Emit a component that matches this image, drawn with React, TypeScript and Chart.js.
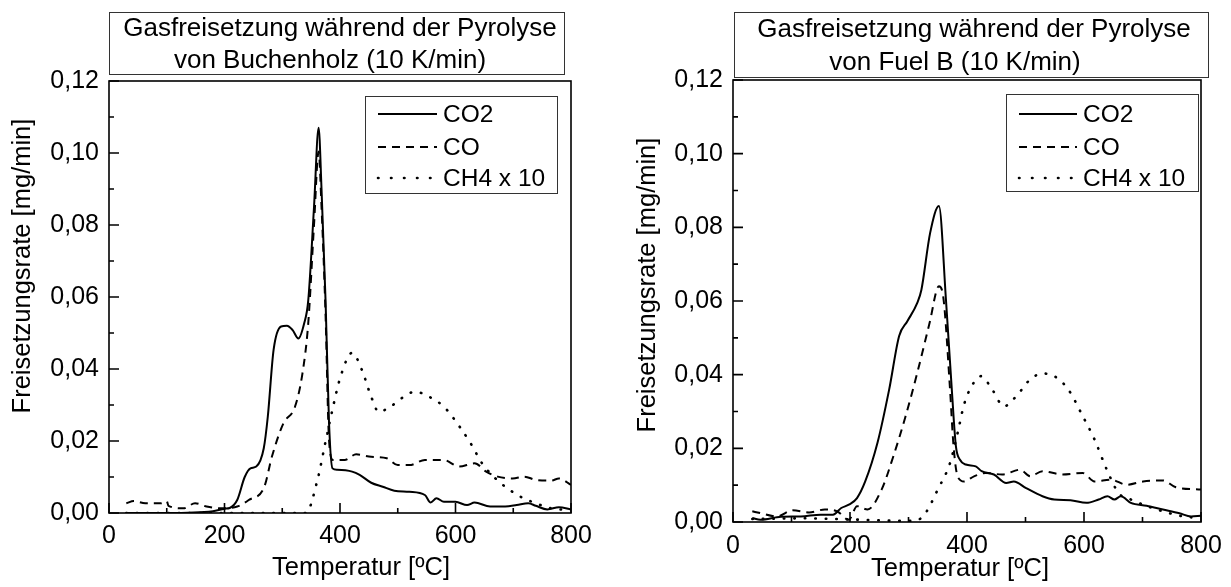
import React, { useEffect, useRef } from "react";
import { Chart, registerables } from "chart.js";

Chart.register(...registerables);

const FONT = "'Liberation Sans', Arial, Helvetica, sans-serif";

// ---------- Data: Buchenholz (left) ----------
const beechCO2T = [30, 100, 180, 200, 209, 222, 235, 245, 255, 268, 275, 285, 298, 308, 318, 328, 338, 345, 355, 363, 368, 375, 381, 387, 395, 421, 434, 454, 474, 494, 520, 547, 557, 567, 580, 600, 620, 633, 660, 686, 706, 726, 739, 759, 779, 800];
const beechCO2 = [0, 0, 0.0005, 0.0012, 0.0014, 0.0036, 0.010, 0.0124, 0.0129, 0.018, 0.0268, 0.0453, 0.0518, 0.052, 0.0508, 0.0485, 0.0527, 0.059, 0.085, 0.107, 0.09, 0.059, 0.025, 0.0124, 0.012, 0.0115, 0.0106, 0.0084, 0.0073, 0.0062, 0.0059, 0.005, 0.0029, 0.0041, 0.0031, 0.0031, 0.0022, 0.0029, 0.0018, 0.0018, 0.0022, 0.0027, 0.002, 0.001, 0.0016, 0.001];

const beechCOT = [30, 43, 63, 90, 100, 103, 129, 149, 169, 196, 222, 242, 269, 282, 302, 322, 335, 345, 355, 363, 368, 375, 381, 388, 408, 428, 454, 481, 500, 520, 547, 580, 606, 633, 653, 673, 699, 719, 739, 766, 779, 800];
const beechCO = [0.0027, 0.0033, 0.0027, 0.0027, 0.0033, 0.002, 0.0013, 0.0027, 0.0018, 0.0013, 0.0018, 0.0036, 0.0073, 0.0156, 0.0249, 0.0295, 0.0388, 0.0527, 0.08, 0.1004, 0.085, 0.055, 0.0203, 0.0147, 0.0147, 0.0163, 0.0156, 0.0152, 0.0133, 0.0133, 0.0147, 0.0147, 0.0129, 0.0138, 0.0115, 0.0101, 0.0096, 0.0101, 0.0092, 0.009, 0.0096, 0.0078];

const beechCH4T = [30, 200, 341, 361, 375, 388, 401, 421, 438, 454, 467, 487, 507, 530, 554, 580, 607, 626, 646, 666, 686, 713, 739, 766, 800];
const beechCH4 = [0, 0, 0, 0.0092, 0.0198, 0.0295, 0.0379, 0.0445, 0.0397, 0.0323, 0.0281, 0.0295, 0.0319, 0.0337, 0.0323, 0.0295, 0.024, 0.0194, 0.0138, 0.0101, 0.0073, 0.0045, 0.0027, 0.0013, 0.0008];

// ---------- Data: Fuel B (right) ----------
const fuelCO2T = [33, 47, 82, 116, 150, 171, 185, 198, 212, 226, 247, 267, 284, 298, 315, 322, 337, 352, 364, 374, 381, 388, 398, 415, 425, 446, 467, 480, 501, 529, 549, 577, 604, 625, 640, 652, 663, 680, 707, 735, 763, 783, 800];
const fuelCO2 = [0.0011, 0.0006, 0.0014, 0.0015, 0.002, 0.002, 0.0038, 0.0047, 0.0065, 0.011, 0.0215, 0.036, 0.0505, 0.0545, 0.0595, 0.063, 0.0785, 0.0858, 0.0604, 0.036, 0.0206, 0.0169, 0.0156, 0.0151, 0.0138, 0.0129, 0.0106, 0.011, 0.0092, 0.007, 0.0061, 0.0059, 0.0052, 0.0061, 0.007, 0.0061, 0.007, 0.0052, 0.0044, 0.0034, 0.0024, 0.0015, 0.0017];

const fuelCOT = [33, 47, 75, 102, 130, 157, 178, 198, 212, 230, 254, 274, 295, 315, 336, 352, 360, 371, 377, 384, 395, 412, 432, 460, 491, 508, 529, 563, 598, 618, 646, 673, 701, 735, 756, 800];
const fuelCO = [0.0029, 0.0024, 0.0015, 0.0032, 0.0026, 0.0034, 0.0029, 0.0006, 0.0043, 0.0034, 0.0088, 0.0178, 0.0287, 0.0405, 0.054, 0.064, 0.0604, 0.036, 0.0206, 0.0124, 0.011, 0.0124, 0.0133, 0.0129, 0.0142, 0.0124, 0.0138, 0.0129, 0.0133, 0.011, 0.0115, 0.0101, 0.011, 0.0113, 0.0095, 0.0088];

const fuelCH4T = [33, 120, 200, 300, 315, 329, 350, 371, 384, 395, 408, 424, 443, 463, 484, 508, 529, 549, 573, 598, 618, 639, 659, 680, 708, 735, 770, 800];
const fuelCH4 = [0.0008, 0.001, 0.0007, 0.0003, 0.0005, 0.0024, 0.0088, 0.016, 0.0242, 0.0319, 0.0369, 0.0396, 0.036, 0.0314, 0.0341, 0.0387, 0.0403, 0.0396, 0.036, 0.0287, 0.0224, 0.0142, 0.0079, 0.0061, 0.0043, 0.0029, 0.0015, 0.0011];

// ---------- Labels / axes ----------
const seriesLabels = ["CO2", "CO", "CH4 x 10"];
const titleBeech = ["Gasfreisetzung während der Pyrolyse", "von Buchenholz (10 K/min)"];
const titleFuel = ["Gasfreisetzung während der Pyrolyse", "von Fuel B (10 K/min)"];
const xAxisTitle = "Temperatur [ºC]";
const yAxisTitle = "Freisetzungsrate [mg/min]";
const X_MIN = 0, X_MAX = 800, X_MAJOR = 200, X_MINOR = 100;
const Y_MIN = 0, Y_MAX = 0.12, Y_MAJOR = 0.02, Y_MINOR = 0.01;

const pts = (t: number[], v: number[]) => t.map((x, i) => ({ x, y: v[i] }));

const decorPlugin = {
  id: "decor",
  afterDraw(chart: any, _args: any, o: any) {
    const ctx = chart.ctx;
    const a = chart.chartArea;
    const xs = chart.scales.x;
    const ys = chart.scales.y;
    ctx.save();
    ctx.setLineDash([]);
    ctx.lineCap = "butt";
    ctx.strokeStyle = "#000";
    ctx.lineWidth = 1.6;
    ctx.strokeRect(a.left, a.top, a.right - a.left, a.bottom - a.top);
    ctx.beginPath();
    const nx = Math.round((X_MAX - X_MIN) / X_MINOR);
    for (let i = 0; i <= nx; i++) {
      const v = X_MIN + i * X_MINOR;
      const px = xs.getPixelForValue(v);
      const len = i % Math.round(X_MAJOR / X_MINOR) === 0 ? 10 : 5;
      ctx.moveTo(px, a.bottom);
      ctx.lineTo(px, a.bottom - len);
    }
    const ny = Math.round((Y_MAX - Y_MIN) / Y_MINOR);
    for (let i = 0; i <= ny; i++) {
      const v = Y_MIN + i * Y_MINOR;
      const py = ys.getPixelForValue(v);
      const len = i % Math.round(Y_MAJOR / Y_MINOR) === 0 ? 10 : 5;
      ctx.moveTo(a.left, py);
      ctx.lineTo(a.left + len, py);
    }
    ctx.stroke();

    // title box
    const tb = o.titleBox;
    ctx.lineWidth = 1;
    ctx.strokeStyle = "#333";
    ctx.strokeRect(tb[0] + 0.5, tb[1] + 0.5, tb[2] - tb[0], tb[3] - tb[1]);
    ctx.fillStyle = "#000";
    ctx.textAlign = "center";
    ctx.textBaseline = "middle";
    ctx.font = `26px ${FONT}`;
    o.titleLines.forEach((t: string, i: number) => ctx.fillText(t, o.titlePos[i][0], o.titlePos[i][1]));

    // axis titles
    ctx.font = `25.5px ${FONT}`;
    ctx.fillText(xAxisTitle, o.xTitlePos[0], o.xTitlePos[1]);
    ctx.save();
    ctx.translate(o.yTitlePos[0], o.yTitlePos[1]);
    ctx.rotate(-Math.PI / 2);
    ctx.fillText(yAxisTitle, 0, 0);
    ctx.restore();

    // legend
    const lb = o.legendBox;
    ctx.strokeStyle = "#333";
    ctx.lineWidth = 1;
    ctx.strokeRect(lb[0] + 0.5, lb[1] + 0.5, lb[2] - lb[0], lb[3] - lb[1]);
    ctx.font = `24.5px ${FONT}`;
    ctx.textAlign = "left";
    chart.data.datasets.forEach((ds: any, i: number) => {
      const y = o.legendRows[i];
      ctx.strokeStyle = "#000";
      ctx.lineWidth = ds.borderWidth;
      ctx.lineCap = ds.borderCapStyle || "butt";
      ctx.setLineDash(o.legendDash[i]);
      ctx.beginPath();
      ctx.moveTo(o.legendLine[0], y);
      ctx.lineTo(o.legendLine[1], y);
      ctx.stroke();
      ctx.setLineDash([]);
      ctx.fillText(ds.label, o.legendText, y + 1);
    });
    ctx.restore();
  },
};

function buildConfig(series: { t: number[]; v: number[] }[], L: any) {
  const dashes = [[], [8, 6], [0.5, 10]];
  const widths = [2, 2, 2.6];
  const caps = ["butt", "butt", "round"];
  return {
    type: "line" as const,
    data: {
      datasets: series.map((s, i) => ({
        label: seriesLabels[i],
        data: pts(s.t, s.v),
        borderColor: "#000",
        borderWidth: widths[i],
        borderDash: dashes[i],
        borderCapStyle: caps[i],
        pointRadius: 0,
        fill: false,
        cubicInterpolationMode: "monotone" as const,
      })),
    },
    options: {
      animation: false as const,
      responsive: false,
      devicePixelRatio: 1,
      layout: { padding: { top: L.padTop, right: L.padRight, left: 0, bottom: 0 } },
      plugins: {
        legend: { display: false },
        title: { display: false },
        tooltip: { enabled: false },
        decor: L.decor,
      },
      scales: {
        x: {
          type: "linear" as const,
          min: X_MIN,
          max: X_MAX,
          grid: { display: false, drawTicks: false },
          border: { display: false },
          ticks: {
            stepSize: X_MAJOR,
            padding: L.xPad,
            color: "#000",
            font: { family: FONT, size: 25 },
            maxRotation: 0,
            callback: (v: any) => String(v),
          },
          afterFit: (s: any) => { s.height = L.xHeight; },
        },
        y: {
          type: "linear" as const,
          min: Y_MIN,
          max: Y_MAX,
          grid: { display: false, drawTicks: false },
          border: { display: false },
          ticks: {
            stepSize: Y_MAJOR,
            padding: 10,
            color: "#000",
            font: { family: FONT, size: 25 },
            callback: (v: any) => Number(v).toFixed(2).replace(".", ","),
          },
          afterFit: (s: any) => { s.width = L.yWidth; },
        },
      },
    },
    plugins: [decorPlugin],
  };
}

const legendDash = [[], [8, 6], [0.5, 12.5]];

const leftLayout = {
  padTop: 81, padRight: 45, xHeight: 74, yWidth: 109, xPad: 8,
  decor: {
    titleLines: titleBeech,
    titleBox: [109, 12, 564, 74],
    titlePos: [[340, 29], [330, 61]],
    xTitlePos: [361, 568],
    yTitlePos: [23, 266],
    legendBox: [365, 96, 557, 193],
    legendLine: [378, 437],
    legendText: 443,
    legendRows: [114, 147, 178],
    legendDash,
  },
};

const rightLayout = {
  padTop: 80, padRight: 30, xHeight: 65, yWidth: 117, xPad: 9,
  decor: {
    titleLines: titleFuel,
    titleBox: [118, 12, 592, 77],
    titlePos: [[358, 30], [339, 63]],
    xTitlePos: [344, 569],
    yTitlePos: [32, 285],
    legendBox: [390, 94, 582, 191],
    legendLine: [403, 461],
    legendText: 467,
    legendRows: [114, 147, 178],
    legendDash,
  },
};

function ChartCanvas({ series, layout, left, width }: any) {
  const ref = useRef<HTMLCanvasElement | null>(null);
  useEffect(() => {
    if (!ref.current) return;
    const chart = new Chart(ref.current, buildConfig(series, layout) as any);
    return () => chart.destroy();
  }, []);
  return (
    <canvas
      ref={ref}
      width={width}
      height={587}
      style={{ position: "absolute", left, top: 0, width, height: 587 }}
    />
  );
}

export default function App() {
  const beech = [
    { t: beechCO2T, v: beechCO2 },
    { t: beechCOT, v: beechCO },
    { t: beechCH4T, v: beechCH4 },
  ];
  const fuel = [
    { t: fuelCO2T, v: fuelCO2 },
    { t: fuelCOT, v: fuelCO },
    { t: fuelCH4T, v: fuelCH4 },
  ];
  return (
    <div style={{ position: "absolute", left: 0, top: 0, width: 1231, height: 587, background: "#fff", overflow: "hidden" }}>
      <ChartCanvas series={beech} layout={leftLayout} left={0} width={616} />
      <ChartCanvas series={fuel} layout={rightLayout} left={616} width={615} />
    </div>
  );
}
